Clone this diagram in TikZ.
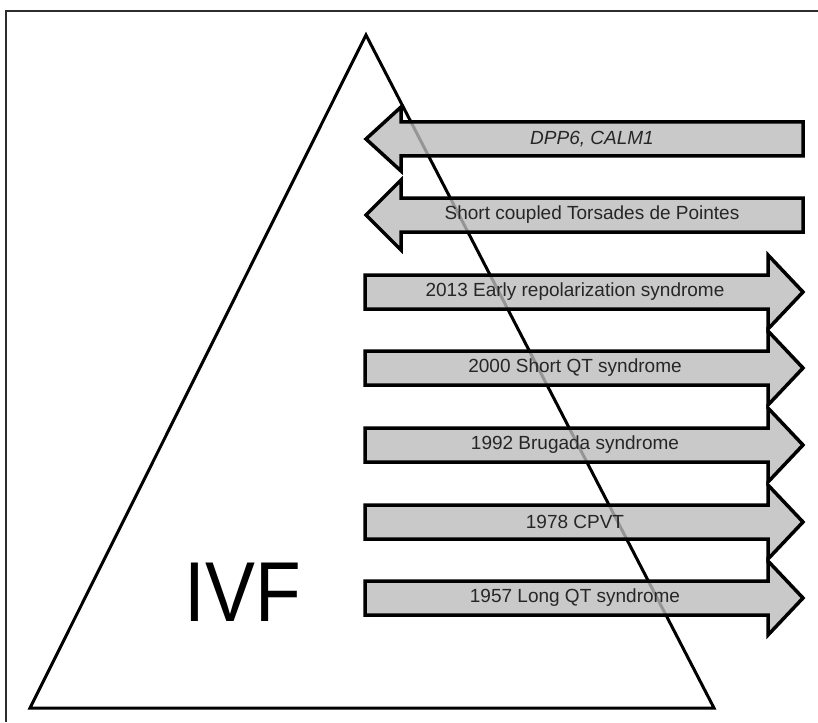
\documentclass[tikz,border=0pt]{standalone}
\usepackage{fontspec}
\setmainfont{Liberation Sans}
\definecolor{arrowfill}{RGB}{187,187,187}
\definecolor{framecol}{RGB}{45,45,45}
\begin{document}
\begin{tikzpicture}[x=1pt,y=-1pt,
  tri/.style={draw=black,line width=3pt,line join=miter},
  arrowshape/.style={draw=black,line width=3.5pt,fill=arrowfill,fill opacity=0.8,line join=miter},
  lbl/.style={inner sep=0pt,font=\fontsize{19}{22}\selectfont,text=black!85},
  framel/.style={draw=framecol,line width=2pt}]
\useasboundingbox (0,0) rectangle (818,722);
% frame
\draw[framel] (6,722) -- (6,11) -- (818,11);
% triangle
\coordinate (apex) at (366,35);
\coordinate (bl) at (30,708);
\coordinate (br) at (714,708);
\draw[tri] (apex) -- (bl) -- (br) -- cycle;
% left arrows
\foreach \cy/\hh in {139/32,215/35}{
  \draw[arrowshape] (366,\cy) -- (401,\cy-\hh) -- (401,\cy-17) -- (803,\cy-17)
     -- (803,\cy+17) -- (401,\cy+17) -- (401,\cy+\hh) -- cycle;
}
% right arrows
\foreach \cy in {292,368,445,522,598}{
  \draw[arrowshape] (365,\cy-17) -- (768,\cy-17) -- (768,\cy-37) -- (803,\cy)
     -- (768,\cy+37) -- (768,\cy+17) -- (365,\cy+17) -- cycle;
}
% labels
\node[lbl] (l1) at (592,139) {\itshape DPP6, CALM1};
\node[lbl] (l2) at (592,215) {Short coupled Torsades de Pointes};
\node[lbl] (l3) at (575,292) {2013 Early repolarization syndrome};
\node[lbl] (l4) at (575,368) {2000 Short QT syndrome};
\node[lbl] (l5) at (575,445) {1992 Brugada syndrome};
\node[lbl] (l6) at (575,522) {1978 CPVT};
\node[lbl] (l7) at (575,598) {1957 Long QT syndrome};
\node[inner sep=0pt,anchor=base,xscale=0.88,font=\fontsize{85}{90}\selectfont] (ivf) at (243,621) {IVF};
\end{tikzpicture}
\end{document}
